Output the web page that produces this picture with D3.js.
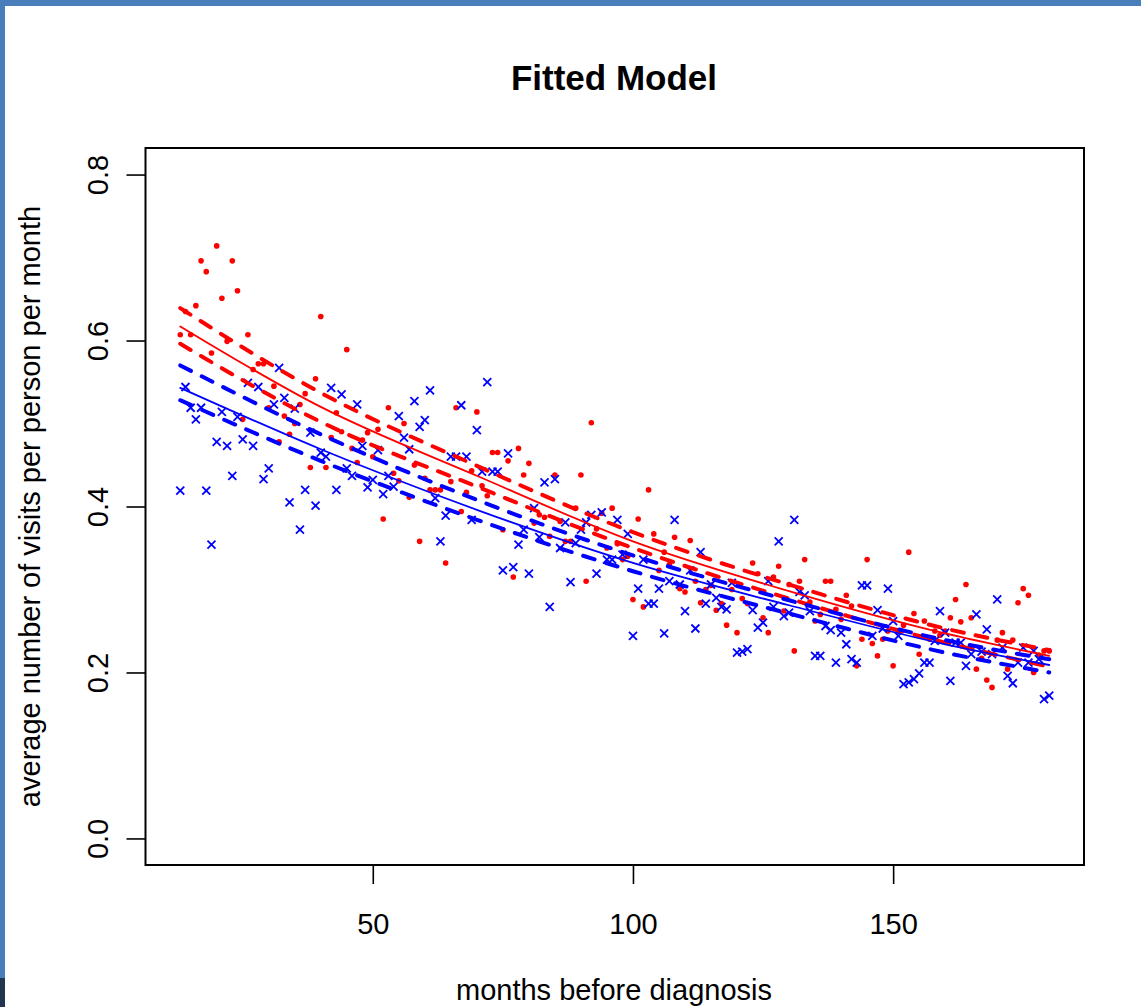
<!DOCTYPE html>
<html>
<head>
<meta charset="utf-8">
<script src="https://cdn.jsdelivr.net/npm/d3@7"></script>
<style>
body { margin: 0; background: #fff; }
text { font-family: "Liberation Sans", Arial, Helvetica, sans-serif; fill: #000; }
</style>
</head>
<body>
<div id="chart"></div>
<script>
// months before diagnosis, one observation per month
const months = d3.range(13, 181);

// average visits per person per month (red dots)
const redVisits = [
  0.607, 0.635, 0.607, 0.642, 0.696, 0.683, 0.585, 0.714, 0.651, 0.599,
  0.696, 0.660, 0.505, 0.607, 0.565, 0.572, 0.572, 0.519, 0.545, 0.478,
  0.509, 0.487, 0.500, 0.523, 0.536, 0.447, 0.554, 0.629, 0.447, 0.483,
  0.513, 0.490, 0.589, 0.470, 0.453, 0.480, 0.489, 0.460, 0.493, 0.385,
  0.519, 0.440, 0.431, 0.500, 0.411, 0.450, 0.358, 0.434, 0.420, 0.420,
  0.420, 0.332, 0.430, 0.519, 0.394, 0.417, 0.443, 0.514, 0.425, 0.413,
  0.465, 0.465, 0.372, 0.455, 0.315, 0.470, 0.438, 0.452, 0.380, 0.390,
  0.387, 0.364, 0.438, 0.382, 0.358, 0.358, 0.398, 0.438, 0.310, 0.501,
  0.373, 0.392, 0.350, 0.398, 0.355, 0.336, 0.340, 0.288, 0.385, 0.279,
  0.420, 0.367, 0.323, 0.345, 0.330, 0.363, 0.301, 0.297, 0.359, 0.310,
  0.284, 0.300, 0.305, 0.275, 0.283, 0.257, 0.300, 0.248, 0.289, 0.283,
  0.332, 0.319, 0.266, 0.248, 0.315, 0.328, 0.274, 0.306, 0.226, 0.310,
  0.336, 0.285, 0.262, 0.270, 0.310, 0.310, 0.276, 0.264, 0.293, 0.280,
  0.208, 0.240, 0.336, 0.235, 0.220, 0.240, 0.250, 0.208, 0.250, 0.257,
  0.345, 0.271, 0.222, 0.262, 0.240, 0.250, 0.245, 0.250, 0.266, 0.288,
  0.261, 0.306, 0.266, 0.204, 0.217, 0.191, 0.182, 0.239, 0.248, 0.204,
  0.239, 0.284, 0.301, 0.293, 0.200, 0.221, 0.226, 0.226
];

// average visits per person per month (blue crosses)
const blueVisits = [
  0.419, 0.544, 0.519, 0.505, 0.519, 0.419, 0.354, 0.478, 0.514, 0.473,
  0.437, 0.508, 0.481, 0.549, 0.473, 0.544, 0.433, 0.446, 0.523, 0.567,
  0.531, 0.405, 0.518, 0.372, 0.420, 0.489, 0.401, 0.465, 0.460, 0.543,
  0.420, 0.535, 0.446, 0.437, 0.523, 0.473, 0.423, 0.432, 0.468, 0.415,
  0.437, 0.424, 0.509, 0.483, 0.469, 0.527, 0.496, 0.504, 0.540, 0.410,
  0.358, 0.389, 0.460, 0.460, 0.522, 0.460, 0.384, 0.492, 0.442, 0.550,
  0.442, 0.442, 0.323, 0.464, 0.327, 0.354, 0.372, 0.319, 0.398, 0.363,
  0.429, 0.279, 0.433, 0.350, 0.381, 0.309, 0.356, 0.372, 0.381, 0.390,
  0.319, 0.393, 0.336, 0.336, 0.384, 0.342, 0.367, 0.244, 0.301, 0.336,
  0.283, 0.283, 0.301, 0.247, 0.310, 0.384, 0.306, 0.274, 0.323, 0.253,
  0.345, 0.283, 0.306, 0.290, 0.279, 0.276, 0.308, 0.224, 0.225, 0.228,
  0.275, 0.254, 0.260, 0.310, 0.279, 0.358, 0.268, 0.272, 0.384, 0.297,
  0.293, 0.274, 0.220, 0.220, 0.256, 0.251, 0.212, 0.248, 0.234, 0.216,
  0.212, 0.305, 0.305, 0.244, 0.275, 0.253, 0.301, 0.262, 0.244, 0.186,
  0.188, 0.192, 0.199, 0.212, 0.212, 0.238, 0.274, 0.248, 0.190, 0.236,
  0.236, 0.208, 0.222, 0.270, 0.225, 0.252, 0.222, 0.288, 0.230, 0.196,
  0.187, 0.212, 0.230, 0.212, 0.226, 0.216, 0.168, 0.172
];

// fitted curves, read at a few months
const fitMonths = [13, 40, 70, 100, 130, 160, 180];
const redFit   = [0.617, 0.520, 0.437, 0.358, 0.298, 0.247, 0.220];
const redUpper = [0.639, 0.537, 0.449, 0.369, 0.306, 0.253, 0.227];
const redLower = [0.596, 0.502, 0.424, 0.350, 0.289, 0.236, 0.207];
const blueFit   = [0.543, 0.469, 0.396, 0.332, 0.281, 0.234, 0.209];
const blueUpper = [0.570, 0.487, 0.408, 0.341, 0.287, 0.239, 0.216];
const blueLower = [0.528, 0.455, 0.384, 0.322, 0.271, 0.224, 0.200];

const xTicks = [50, 100, 150];
const yTicks = [0, 0.2, 0.4, 0.6, 0.8];

const width = 1141, height = 1007;
const box = {left: 145.5, right: 1084, top: 148, bottom: 865};

const svg = d3.select("#chart")
    .append("svg")
    .attr("width", width)
    .attr("height", height);

// slide frame
svg.append("rect").attr("x", 0).attr("y", 0).attr("width", width).attr("height", 6).attr("fill", "#4a7ebb");
svg.append("rect").attr("x", 0).attr("y", 0).attr("width", 5).attr("height", height).attr("fill", "#4a7ebb");
svg.append("rect").attr("x", 0).attr("y", 978).attr("width", 5).attr("height", 29).attr("fill", "#22364f");

// R style 4% padding
const xe = d3.extent(months), xp = (xe[1] - xe[0]) * 0.04;
const x = d3.scaleLinear()
    .domain([xe[0] - xp, xe[1] + xp])
    .range([box.left, box.right]);

const y = d3.scaleLinear()
    .domain([-0.032, 0.832])
    .range([box.bottom, box.top]);

const red = "#ff0000", blue = "#0000ff";

// points
svg.append("g")
    .selectAll("circle")
    .data(months.map((m, i) => [m, redVisits[i]]))
    .join("circle")
    .attr("cx", d => x(d[0]))
    .attr("cy", d => y(d[1]))
    .attr("r", 2.8)
    .attr("fill", red);

const s = 4;
svg.append("g")
    .attr("stroke", blue)
    .attr("stroke-width", 1.8)
    .selectAll("path")
    .data(months.map((m, i) => [m, blueVisits[i]]))
    .join("path")
    .attr("d", d => {
        const cx = x(d[0]), cy = y(d[1]);
        return `M${cx - s},${cy - s}L${cx + s},${cy + s}M${cx - s},${cy + s}L${cx + s},${cy - s}`;
    });

// fitted lines
const line = d3.line()
    .x(d => x(d[0]))
    .y(d => y(d[1]))
    .curve(d3.curveMonotoneX);

const curves = [
    {vals: redUpper, color: red, dash: true},
    {vals: redLower, color: red, dash: true},
    {vals: blueUpper, color: blue, dash: true},
    {vals: blueLower, color: blue, dash: true},
    {vals: redFit, color: red, dash: false},
    {vals: blueFit, color: blue, dash: false}
];

svg.append("g")
    .attr("fill", "none")
    .selectAll("path")
    .data(curves)
    .join("path")
    .attr("d", c => line(fitMonths.map((m, i) => [m, c.vals[i]])))
    .attr("stroke", c => c.color)
    .attr("stroke-width", c => c.dash ? 4 : 1.8)
    .attr("stroke-dasharray", c => c.dash ? "12,12" : null)
    .attr("stroke-linecap", "round");

// box
svg.append("rect")
    .attr("x", box.left)
    .attr("y", box.top)
    .attr("width", box.right - box.left)
    .attr("height", box.bottom - box.top)
    .attr("fill", "none")
    .attr("stroke", "#000")
    .attr("stroke-width", 2);

// axes
const gx = svg.append("g")
    .attr("transform", `translate(0,${box.bottom})`)
    .call(d3.axisBottom(x).tickValues(xTicks).tickSize(19).tickPadding(29).tickFormat(d3.format("d")));
gx.select(".domain").remove();
gx.selectAll("line").attr("stroke-width", 1.6);
gx.selectAll("text").attr("font-size", 29);

const gy = svg.append("g")
    .attr("transform", `translate(${box.left},0)`)
    .call(d3.axisLeft(y).tickValues(yTicks).tickSize(19).tickFormat(d3.format(".1f")));
gy.select(".domain").remove();
gy.selectAll("line").attr("stroke-width", 1.6);
gy.selectAll("text")
    .attr("x", null)
    .attr("dy", null)
    .attr("text-anchor", "middle")
    .attr("font-size", 29)
    .attr("transform", "translate(-37.5,0) rotate(-90)");
svg.selectAll(".tick text").attr("font-family", null);

// titles
svg.append("text")
    .attr("x", 614)
    .attr("y", 90)
    .attr("text-anchor", "middle")
    .attr("font-size", 35)
    .attr("font-weight", "bold")
    .text("Fitted Model");

svg.append("text")
    .attr("x", 614)
    .attr("y", 1000)
    .attr("text-anchor", "middle")
    .attr("font-size", 29)
    .text("months before diagnosis");

svg.append("text")
    .attr("transform", `translate(40,${(box.top + box.bottom) / 2}) rotate(-90)`)
    .attr("text-anchor", "middle")
    .attr("font-size", 29)
    .text("average number of visits per person per month");
</script>
</body>
</html>
